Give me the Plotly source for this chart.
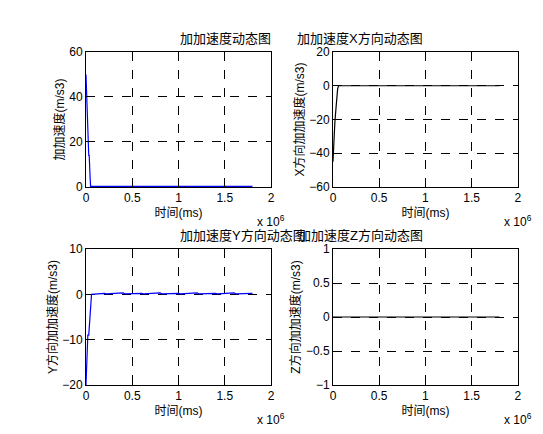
import plotly.graph_objects as go

# time in units of 1e6 ms
t_a = [0, 0.005, 0.01, 0.015, 0.02, 0.025, 0.03, 0.035, 0.04, 0.045, 0.05, 1.8]
a_total = [50, 44, 34, 34, 24, 24, 14, 14, 4, 4, 0.3, 0.3]

t_x = [0, 0.005, 0.01, 0.02, 0.03, 0.04, 0.05, 0.06, 1.8]
a_x = [-45, -38, -30, -22, -15, -8, -2, 0, 0]

t_y = [0, 0.005, 0.01, 0.02, 0.03, 0.04, 0.05, 0.06, 0.2, 0.22, 0.4, 0.42, 0.6, 0.62, 0.8, 0.82,
       1.0, 1.02, 1.2, 1.22, 1.4, 1.42, 1.6, 1.62, 1.8]
a_y = [-20, -17, -13, -9, -9, -5, -2, 0, 0.2, 0.1, 0.3, 0.1, 0.2, 0.1, 0.3, 0.1,
       0.2, 0.1, 0.3, 0.1, 0.2, 0.1, 0.3, 0.1, 0.2]

t_z = [0, 1.8]
a_z = [0, 0]

titles = ['加加速度动态图', '加加速度X方向动态图', '加加速度Y方向动态图', '加加速度Z方向动态图']
ylabels = ['加加速度(m/s3)', 'X方向加加速度(m/s3)', 'Y方向加加速度(m/s3)', 'Z方向加加速度(m/s3)']
yranges = [[0, 60], [-60, 20], [-20, 10], [-1, 1]]
ydticks = [20, 20, 10, 0.5]

font = 'Liberation Sans, Noto Sans CJK SC'
fig = go.Figure()
series = [(t_a, a_total, '#0000ff'), (t_x, a_x, '#000000'), (t_y, a_y, '#0000ff'), (t_z, a_z, '#000000')]
xdoms = [[0.1436, 0.4843], [0.5985, 0.939], [0.1436, 0.4843], [0.5985, 0.939]]
ydoms = [[0.5876, 0.8986], [0.5876, 0.8986], [0.1313, 0.4447], [0.1313, 0.4447]]

for i, (t, v, c) in enumerate(series):
    n = '' if i == 0 else str(i + 1)
    fig.add_trace(go.Scatter(x=t, y=v, mode='lines', line=dict(color=c, width=1.2),
                             xaxis='x' + n, yaxis='y' + n, showlegend=False))
    ax = dict(showline=True, linecolor='black', linewidth=1, mirror='ticks', ticks='inside',
              ticklen=4, tickcolor='black', showgrid=True, gridcolor='black', griddash='dash',
              gridwidth=1, zeroline=False, automargin=False, tickfont=dict(size=12, color='black'))
    fig.layout['xaxis' + n] = dict(ax, domain=xdoms[i], range=[0, 2], dtick=0.5,
                                   anchor='y' + n, title=dict(text='时间(ms)', standoff=4,
                                   font=dict(size=12, color='black')))
    fig.layout['yaxis' + n] = dict(ax, domain=ydoms[i], range=yranges[i], dtick=ydticks[i],
                                   anchor='x' + n, title=dict(text=ylabels[i], standoff=2,
                                   font=dict(size=12, color='black')))
    fig.add_annotation(text=titles[i], x=sum(xdoms[i]) / 2, y=ydoms[i][1], xref='paper', yref='paper',
                       yanchor='bottom', yshift=4, showarrow=False, font=dict(size=13, color='black'))
    fig.add_annotation(text='x 10<sup>6</sup>', x=xdoms[i][1], y=ydoms[i][0], xref='paper', yref='paper',
                       xanchor='center', yanchor='top', yshift=-24, showarrow=False,
                       font=dict(size=12, color='black'))

fig.update_layout(width=543, height=434, margin=dict(l=0, r=0, t=0, b=0),
                  paper_bgcolor='white', plot_bgcolor='white', font=dict(family=font))
fig.write_html('out.html')
